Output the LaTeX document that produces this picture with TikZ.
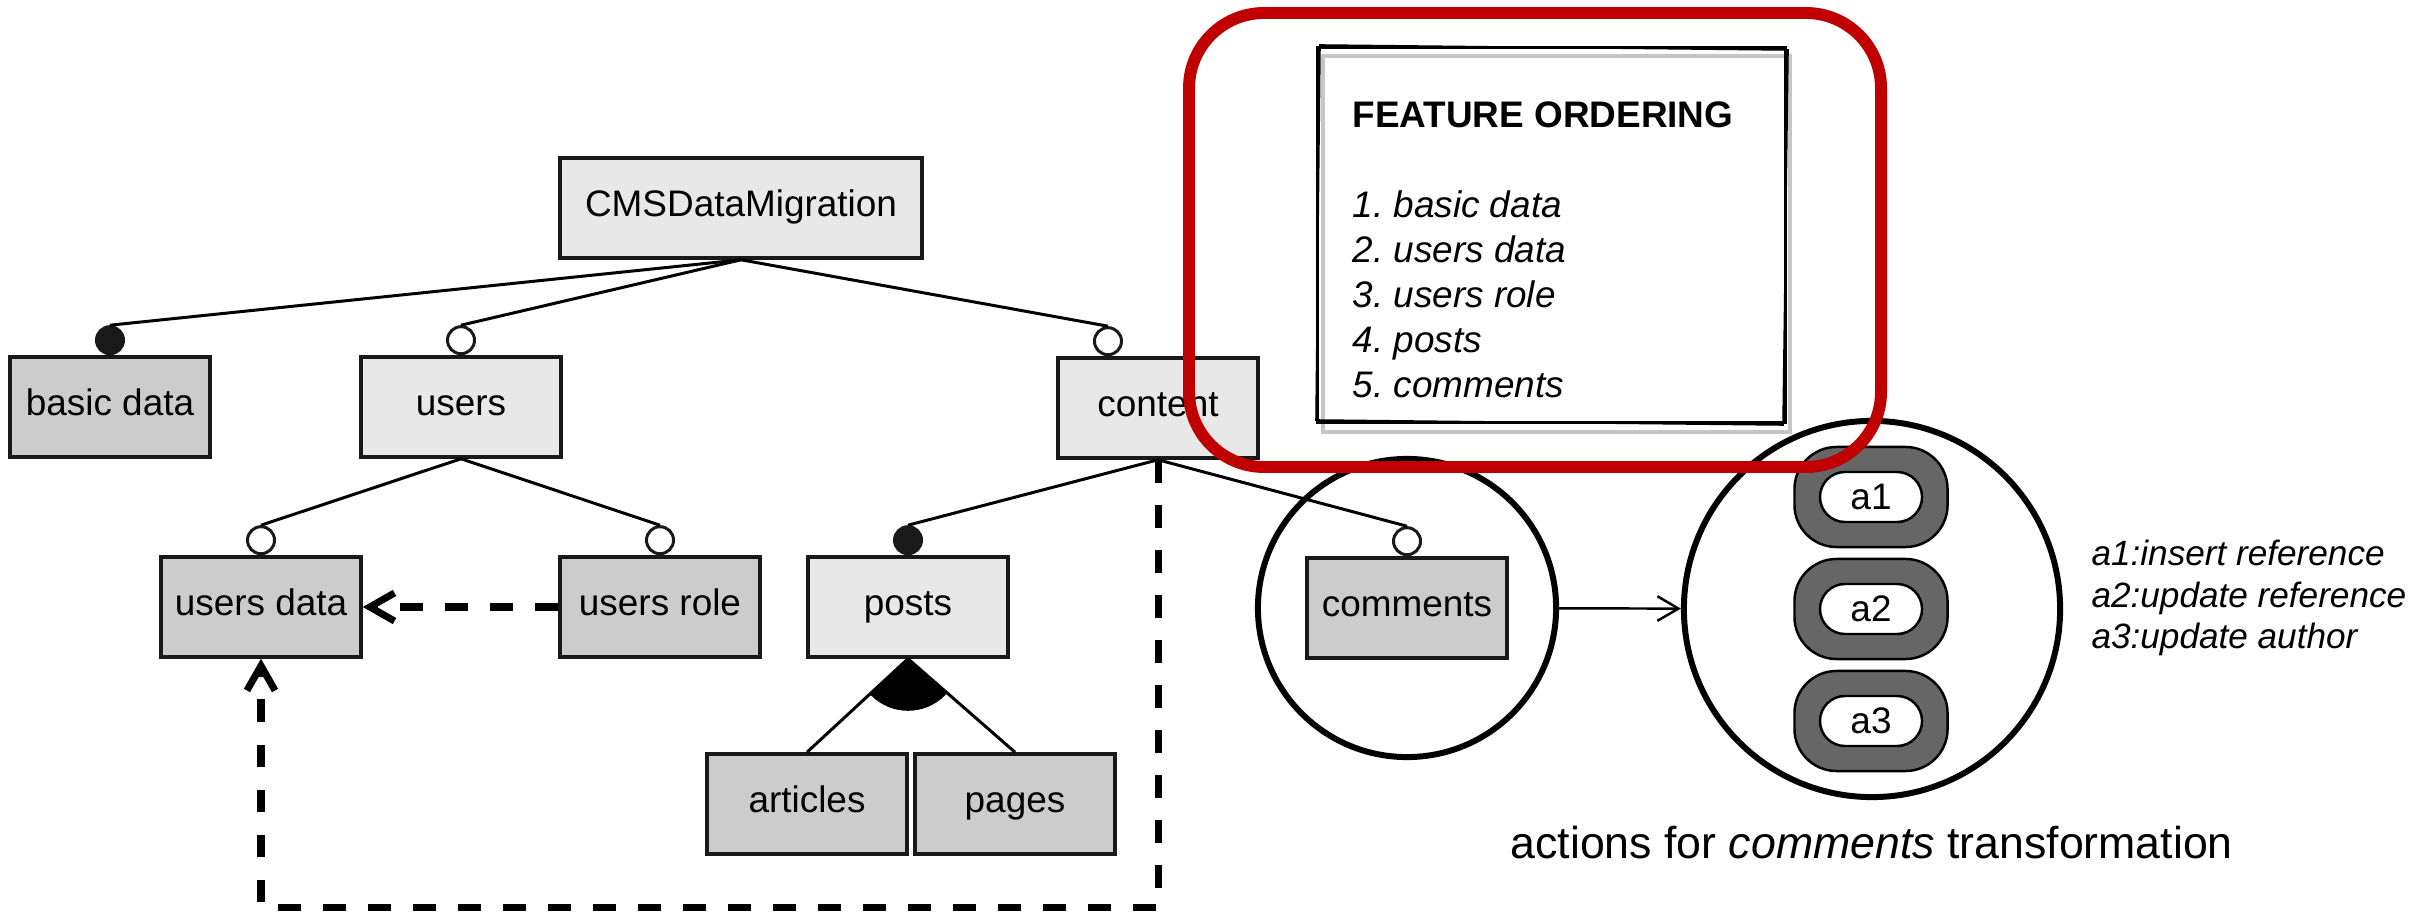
\documentclass[tikz,border=0pt]{standalone}
\usepackage{fontspec}
\setmainfont{Liberation Sans}
\usetikzlibrary{positioning,arrows.meta}

\definecolor{featfill}{HTML}{E8E8E8}
\definecolor{leaffill}{HTML}{CCCCCC}
\definecolor{markred}{HTML}{C00000}
\definecolor{actfill}{HTML}{666666}
\newcommand\boxfont{\fontsize{10.5}{12.6}\selectfont}

\tikzset{
  feat/.style={draw=black!90, line width=1pt, fill=featfill, minimum width=2cm,
    minimum height=1cm, inner sep=0pt, text height=0.72em, text depth=0.21em,
    font=\boxfont},
  leaf/.style={feat, fill=leaffill},
  mand/.style={circle, draw=black!90, line width=0.85pt, fill=black!90,
    minimum size=0.27cm, inner sep=0pt},
  opt/.style={mand, fill=white},
  dep/.style={line width=2pt, dash pattern=on 6.5pt off 6.3pt,
    -{Straight Barb[length=7pt,width=8pt]}},
  ring/.style={circle, draw, line width=1.7pt, inner sep=0pt},
  act/.style={draw, line width=0.7pt, fill=actfill, minimum width=1.53cm,
    minimum height=1cm, rounded corners=0.42cm},
  actin/.style={draw, line width=0.7pt, fill=white, minimum width=1.02cm,
    minimum height=0.5cm, rounded corners=0.25cm, inner sep=0pt, font=\boxfont},
  label text/.style={anchor=base west, inner sep=0pt},
}

\begin{document}
\begin{tikzpicture}[x=0.01cm, y=-0.01cm, line width=0.85pt]
\useasboundingbox (0,0) rectangle (2425,913);

% feature model
\node[feat, minimum width=3.62cm] (cms) at (741,208) {CMSDataMigration};
\node[leaf] (bd) at (110,407) {basic data};
\node[feat] (users) at (461,407) {users};
\node[feat] (content) at (1158,408) {content};
\node[leaf] (ud) at (261,607) {users data};
\node[leaf] (ur) at (660,607) {users role};
\node[feat] (posts) at (908,607) {posts};
\node[leaf] (comm) at (1407,608) {comments};
\node[leaf] (art) at (807,804) {articles};
\node[leaf] (pag) at (1015,804) {pages};

\node[mand, above=0pt of bd] (bd-m) {};
\node[opt, above=0pt of users] (users-o) {};
\node[opt, above=0pt of content, xshift=-0.5cm] (content-o) {};
\node[opt, above=0pt of ud] (ud-o) {};
\node[opt, above=0pt of ur] (ur-o) {};
\node[mand, above=0pt of posts] (posts-m) {};
\node[opt, above=0pt of comm] (comm-o) {};

\draw (cms.south) -- (bd-m.north);
\draw (cms.south) -- (users-o.north);
\draw (cms.south) -- (content-o.north);
\draw (users.south) -- (ud-o.north);
\draw (users.south) -- (ur-o.north);
\draw (content.south) -- (posts-m.north);
\draw (content.south) -- (comm-o.north);

% or group
\draw (posts.south) -- (art.north);
\draw (posts.south) -- (pag.north);
\begin{scope}
  \clip (posts.south) -- (art.north) -- (pag.north) -- cycle;
  \fill (posts.south) circle (52);
\end{scope}

% dependencies
\draw[dep] (ur.west) -- (ud.east);
\draw[dep] (content.south) -- ++(0,448) -| (ud.south);

% actions
\node[ring, minimum size=2.98cm] (ring1) at (comm) {};
\node[ring, minimum size=3.76cm] (ring2) at (1872,609) {};
\draw[line width=0.7pt, -{Straight Barb[length=6pt,width=7pt]}] (ring1) -- (ring2);

\foreach \i in {1,2,3} {
  \node[act] (act\i) at (1871,{497+(\i-1)*112}) {};
  \node[actin] (a\i) at (act\i) {a\i};
}
\foreach \i/\t in {1/insert reference,2/update reference,3/update author}
  \node[label text, font=\fontsize{10}{12}\selectfont\itshape] (leg\i)
    at (2090,{565+(\i-1)*42}) {a\i:\t};

\node[label text, font=\fontsize{12.7}{15}\selectfont] (caption) at (1509,858)
  {actions for \textit{comments} transformation};

% ordering note
\draw[gray!45, line width=1.3pt] (1323,56) rectangle (1790,432);
\node[draw, line width=0.9pt, minimum width=4.67cm, minimum height=3.74cm,
  inner sep=0pt] (order) at (1551.5,235) {};
\draw[line width=0.45pt] (1320,45) -- (1788,50) -- (1783,425) -- (1316,420) -- cycle;
\node[label text, font=\boxfont\bfseries] (title) at (1351,128) {FEATURE ORDERING};
\foreach \i/\t in {1/basic data,2/users data,3/users role,4/posts,5/comments}
  \node[label text, font=\boxfont\itshape] (item\i) at (1351,{218+(\i-1)*45}) {\i.\ \t};

\draw[markred, line width=3.4pt, rounded corners=0.75cm] (1189,13) rectangle (1881,467);
\end{tikzpicture}
\end{document}
